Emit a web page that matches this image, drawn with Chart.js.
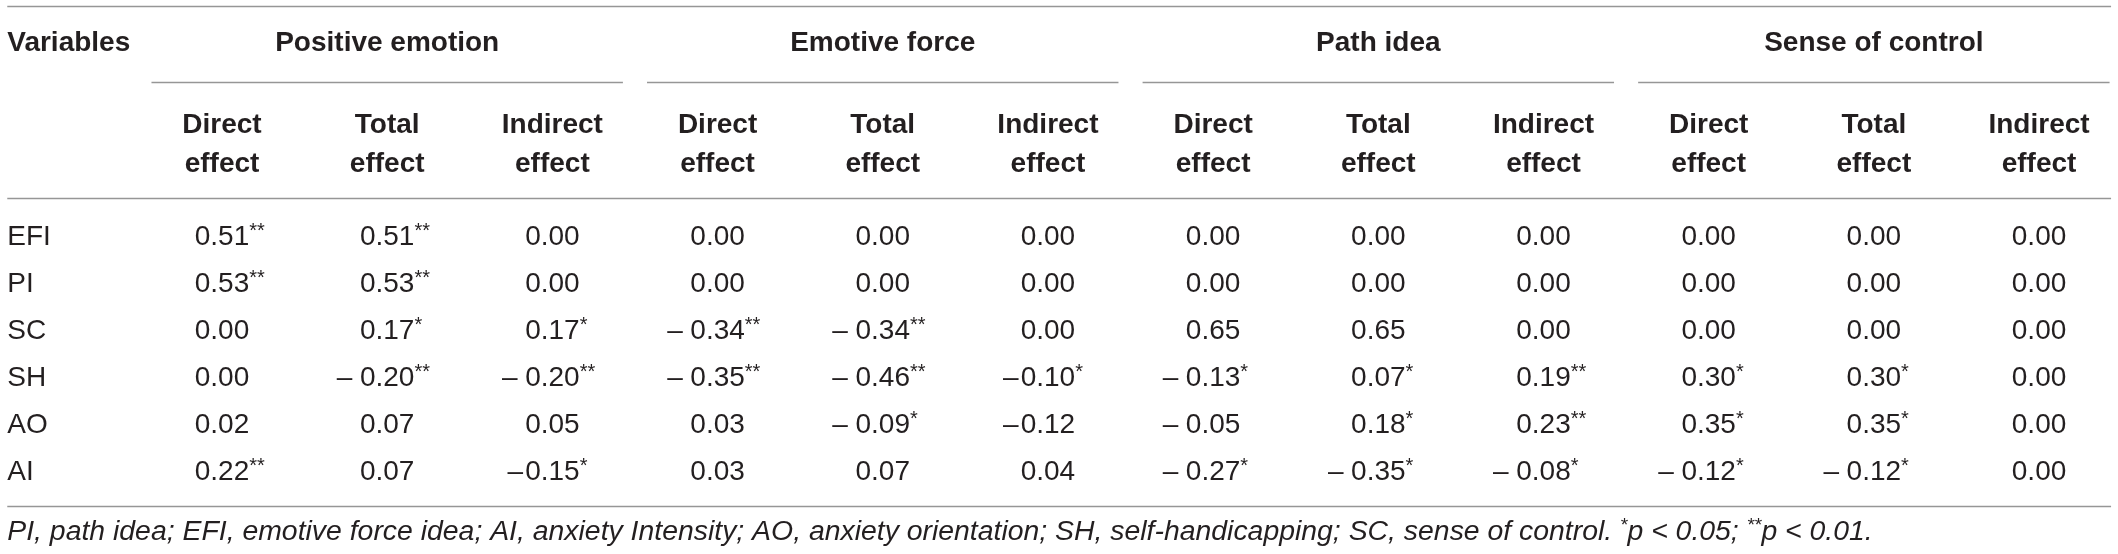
<!DOCTYPE html>
<html>
<head>
<meta charset="utf-8">
<script src="https://cdn.jsdelivr.net/npm/chart.js@4"></script>
<style>
  html, body { margin: 0; padding: 0; background: #fff; }
  canvas { display: block; }
</style>
</head>
<body>
<canvas id="effectsTable" width="2118" height="554"></canvas>
<script>
// Table data
const variables = ['EFI', 'PI', 'SC', 'SH', 'AO', 'AI'];
const groupNames = ['Positive emotion', 'Emotive force', 'Path idea', 'Sense of control'];
const effectNames = [['Direct', 'effect'], ['Total', 'effect'], ['Indirect', 'effect']];

// each group: [direct, total, indirect], one value per variable
const positiveEmotion = [
  ['0.51**', '0.53**', '0.00', '0.00', '0.02', '0.22**'],
  ['0.51**', '0.53**', '0.17*', '– 0.20**', '0.07', '0.07'],
  ['0.00', '0.00', '0.17*', '– 0.20**', '0.05', '–0.15*']
];
const emotiveForce = [
  ['0.00', '0.00', '– 0.34**', '– 0.35**', '0.03', '0.03'],
  ['0.00', '0.00', '– 0.34**', '– 0.46**', '– 0.09*', '0.07'],
  ['0.00', '0.00', '0.00', '–0.10*', '–0.12', '0.04']
];
const pathIdea = [
  ['0.00', '0.00', '0.65', '– 0.13*', '– 0.05', '– 0.27*'],
  ['0.00', '0.00', '0.65', '0.07*', '0.18*', '– 0.35*'],
  ['0.00', '0.00', '0.00', '0.19**', '0.23**', '– 0.08*']
];
const senseOfControl = [
  ['0.00', '0.00', '0.00', '0.30*', '0.35*', '– 0.12*'],
  ['0.00', '0.00', '0.00', '0.30*', '0.35*', '– 0.12*'],
  ['0.00', '0.00', '0.00', '0.00', '0.00', '0.00']
];

const footnote = [
  ['PI, path idea; EFI, emotive force idea; AI, anxiety Intensity; AO, anxiety orientation; SH, self-handicapping; SC, sense of control. ', false],
  ['*', true], ['p < 0.05; ', false], ['**', true], ['p < 0.01.', false]
];

const groups = [positiveEmotion, emotiveForce, pathIdea, senseOfControl];

// one dataset per effect column, x = column index, y = row index
const datasets = [];
groups.forEach((group, g) => {
  group.forEach((values, k) => {
    datasets.push({
      label: groupNames[g] + ' ' + effectNames[k].join(' '),
      data: values.map((v, r) => ({x: g * 3 + k + 1, y: r})),
      cells: values,
      pointRadius: 0,
      pointHoverRadius: 0
    });
  });
});

const FONT = '"Liberation Sans", Arial, sans-serif';
const INK = '#231f20';
const RULE = '#969696';

// positions in scale units
const LEFT_X = -0.30, RIGHT_X = 12.436;
const Y_TOP_RULE = -5.085, Y_TITLE = -4.13, Y_UNDERLINE = -3.468;
const Y_HEAD1 = -2.383, Y_HEAD2 = -1.553, Y_HEAD_RULE = -1.0;
const Y_BOTTOM_RULE = 5.553, Y_NOTE = 6.28;

function drawCell(ctx, text, x, y) {
  const m = text.match(/^([–-]\s?)?([\d.]+)(\**)$/);
  const prefix = m[1] || '', num = m[2], stars = m[3];
  ctx.font = '28px ' + FONT;
  const w = ctx.measureText(num).width;
  ctx.textAlign = 'center';
  ctx.fillText(num, x, y);
  if (prefix) {
    ctx.textAlign = 'right';
    ctx.fillText(prefix.replace(' ', '\u2009'), x - w / 2 - 2, y);
  }
  if (stars) {
    ctx.font = '20px ' + FONT;
    ctx.textAlign = 'left';
    ctx.fillText(stars, x + w / 2, y - 8);
  }
}

const tablePlugin = {
  id: 'tablePlugin',
  afterDatasetsDraw(chart) {
    const {ctx, scales: {x, y}} = chart;
    ctx.save();
    ctx.fillStyle = INK;
    ctx.textBaseline = 'alphabetic';

    // rules
    ctx.strokeStyle = RULE;
    ctx.lineWidth = 1.5;
    const hline = (x0, x1, yv) => {
      const py = Math.round(y.getPixelForValue(yv)) + 0.5;
      ctx.beginPath();
      ctx.moveTo(x.getPixelForValue(x0), py);
      ctx.lineTo(x.getPixelForValue(x1), py);
      ctx.stroke();
    };
    hline(LEFT_X, RIGHT_X, Y_TOP_RULE);
    hline(LEFT_X, RIGHT_X, Y_HEAD_RULE);
    hline(LEFT_X, RIGHT_X, Y_BOTTOM_RULE);
    groupNames.forEach((name, g) => {
      hline(g * 3 + 0.573, g * 3 + 3.427, Y_UNDERLINE);
    });

    // header
    ctx.font = 'bold 28px ' + FONT;
    ctx.textAlign = 'left';
    ctx.fillText('Variables', x.getPixelForValue(LEFT_X), y.getPixelForValue(Y_TITLE));
    ctx.textAlign = 'center';
    groupNames.forEach((name, g) => {
      ctx.fillText(name, x.getPixelForValue(g * 3 + 2), y.getPixelForValue(Y_TITLE));
      effectNames.forEach((lines, k) => {
        const px = x.getPixelForValue(g * 3 + k + 1);
        ctx.fillText(lines[0], px, y.getPixelForValue(Y_HEAD1));
        ctx.fillText(lines[1], px, y.getPixelForValue(Y_HEAD2));
      });
    });

    // row labels
    ctx.font = '28px ' + FONT;
    ctx.textAlign = 'left';
    variables.forEach((v, r) => {
      ctx.fillText(v, x.getPixelForValue(LEFT_X), y.getPixelForValue(r));
    });

    // cells
    chart.data.datasets.forEach((ds, i) => {
      const meta = chart.getDatasetMeta(i);
      meta.data.forEach((pt, r) => drawCell(ctx, ds.cells[r], pt.x, pt.y));
    });

    // footnote
    let fx = x.getPixelForValue(LEFT_X);
    const fy = y.getPixelForValue(Y_NOTE);
    ctx.textAlign = 'left';
    footnote.forEach(([t, sup]) => {
      ctx.font = (sup ? 'italic 19px ' : 'italic 28.4px ') + FONT;
      ctx.fillText(t, fx, sup ? fy - 9 : fy);
      fx += ctx.measureText(t).width;
    });
    ctx.restore();
  }
};

new Chart(document.getElementById('effectsTable'), {
  type: 'scatter',
  data: {datasets},
  options: {
    responsive: false,
    animation: false,
    events: [],
    layout: {padding: 0},
    plugins: {legend: {display: false}, tooltip: {enabled: false}},
    scales: {
      x: {type: 'linear', display: false, min: -0.344, max: 12.478},
      y: {type: 'linear', display: false, reverse: true, min: -5.213, max: 6.574}
    }
  },
  plugins: [tablePlugin]
});
</script>
</body>
</html>
